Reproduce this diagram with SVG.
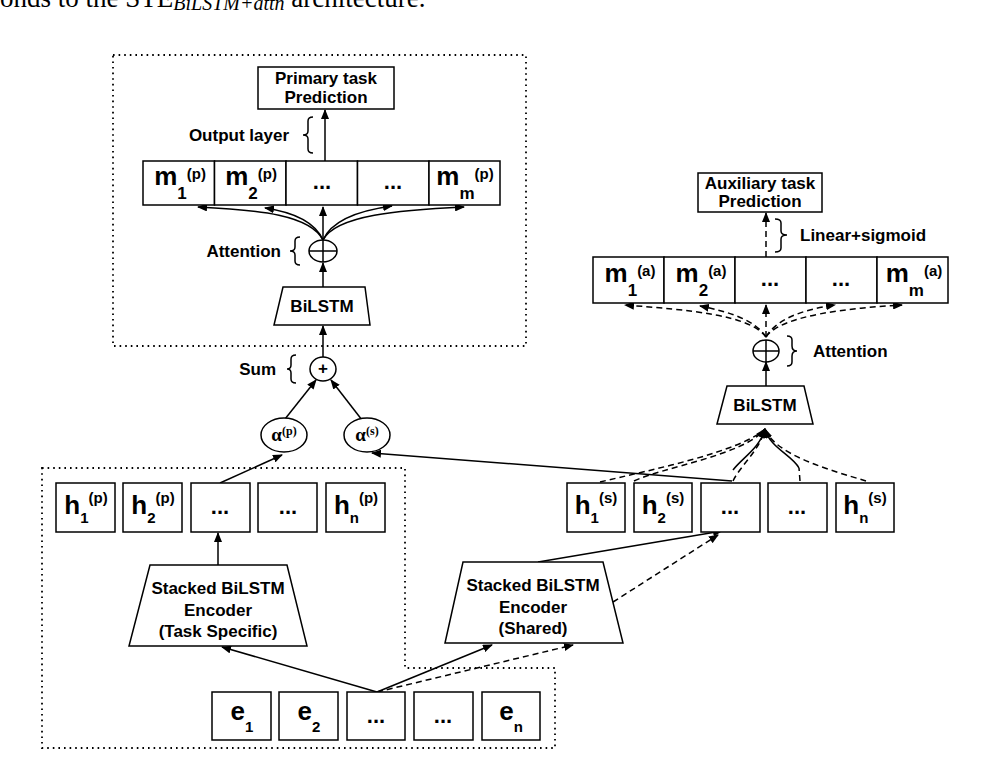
<svg xmlns="http://www.w3.org/2000/svg" width="986" height="765" viewBox="0 0 986 765">
<style>
.box{fill:#fff;stroke:#000;stroke-width:1.5}
.shape{fill:#fff;stroke:#000;stroke-width:1.5}
.ln{fill:none;stroke:#000;stroke-width:1.5}
.dash{fill:none;stroke:#000;stroke-width:1.5;stroke-dasharray:6 4}
.dot{fill:none;stroke:#000;stroke-width:1.8;stroke-dasharray:1.6 4}
.t{font-family:"Liberation Sans",Arial,sans-serif;font-weight:bold;font-size:17px;fill:#000}
.big{font-family:"Liberation Sans",Arial,sans-serif;font-weight:bold;font-size:26px;fill:#000}
.dots{font-family:"Liberation Sans",Arial,sans-serif;font-weight:bold;font-size:22px;fill:#000}
.sb{font-size:17px}
.sp{font-size:15px}
.al{font-family:"Liberation Serif","Times New Roman",serif;font-weight:bold;font-size:19px;fill:#000}
.cap{font-family:"Liberation Serif","Times New Roman",serif;font-size:27px;fill:#000}
</style>
<defs>
<marker id="ah" markerUnits="userSpaceOnUse" markerWidth="10" markerHeight="8" refX="9" refY="4" orient="auto"><path d="M0,0 L10,4 L0,8 z" fill="#000"/></marker>
</defs>

<text class="cap" x="0" y="7">onds to the STE<tspan font-style="italic" font-size="20" dy="3">BiLSTM+attn</tspan><tspan dy="-3"> architecture.</tspan></text>

<g id="regions">
<rect class="dot" x="113" y="55" width="413" height="291"/>
<path class="dot" d="M42,468 L405,468 L405,668 L555,668 L555,748 L42,748 Z"/>
</g>

<g id="connectors">
<path class="ln" d="M325,161 L325,110" marker-end="url(#ah)"/>
<path class="ln" d="M323,240 C310,215 260,210 198,207" marker-end="url(#ah)"/>
<path class="ln" d="M323,240 C315,222 292,212 265,208" marker-end="url(#ah)"/>
<path class="ln" d="M323,240 L323,207" marker-end="url(#ah)"/>
<path class="ln" d="M323,240 C331,222 355,211 392,206" marker-end="url(#ah)"/>
<path class="ln" d="M323,240 C336,215 400,210 464,207" marker-end="url(#ah)"/>
<path class="ln" d="M323,287 L323,263" marker-end="url(#ah)"/>
<path class="ln" d="M323,357 L323,326" marker-end="url(#ah)"/>
<path class="ln" d="M285,419 L316,380" marker-end="url(#ah)"/>
<path class="ln" d="M362,420 L331,380" marker-end="url(#ah)"/>
<path class="ln" d="M220,483 L282,455" marker-end="url(#ah)"/>
<path class="ln" d="M732,481 L372,453" marker-end="url(#ah)"/>
<path class="ln" d="M218,565 L218,533" marker-end="url(#ah)"/>
<path class="ln" d="M377,692 L222,647" marker-end="url(#ah)"/>
<path class="ln" d="M377,692 L492,645" marker-end="url(#ah)"/>
<path class="dash" d="M377,692 L573,645" marker-end="url(#ah)"/>
<path class="ln" d="M538,562 L722,531" marker-end="url(#ah)"/>
<path class="dash" d="M613,602 L718,535" marker-end="url(#ah)"/>
<path class="dash" d="M634,481 C660,468 745,455 765,429" marker-end="url(#ah)"/>
<path class="dash" d="M600,482 C650,470 740,452 765,429"/>
<path class="dash" d="M733,481 C740,466 760,450 765,429"/>
<path class="ln" d="M733,470 C742,458 760,448 765,429" marker-end="url(#ah)"/>
<path class="ln" d="M799,468 C792,455 770,448 765,429" marker-end="url(#ah)"/>
<path class="dash" d="M800,481 L799,468"/>
<path class="dash" d="M866,481 C830,470 775,455 765,429" marker-end="url(#ah)"/>
<path class="ln" d="M766,386 L766,362" marker-end="url(#ah)"/>
<path class="dash" d="M766,337 C750,315 690,310 625,305" marker-end="url(#ah)"/>
<path class="dash" d="M766,337 C755,320 730,312 700,306" marker-end="url(#ah)"/>
<path class="dash" d="M766,337 L766,305" marker-end="url(#ah)"/>
<path class="dash" d="M766,337 C776,320 800,310 835,305" marker-end="url(#ah)"/>
<path class="dash" d="M766,337 C781,315 850,308 902,305" marker-end="url(#ah)"/>
<path class="dash" d="M766,257 L766,213" marker-end="url(#ah)"/>
</g>

<g id="primary_pred">
<rect class="box" x="258" y="67" width="136" height="42"/>
<text class="t" x="326" y="84" text-anchor="middle">Primary task</text>
<text class="t" x="326" y="103" text-anchor="middle">Prediction</text>
</g>
<g id="output_layer_label">
<text class="t" x="289" y="141" text-anchor="end">Output layer</text>
<path class="ln" d="M313,117 Q308,117 308,121 L308,131 Q308,135 303,135 Q308,135 308,139 L308,149 Q308,153 313,153"/>
</g>

<g id="m_p">
<rect class="box" x="143" y="161" width="71.5" height="44"/>
<rect class="box" x="214.5" y="161" width="71.5" height="44"/>
<rect class="box" x="286" y="161" width="71.5" height="44"/>
<rect class="box" x="357.5" y="161" width="71.5" height="44"/>
<rect class="box" x="429" y="161" width="71" height="44"/>
<text class="big" x="180" y="185" text-anchor="middle">m<tspan class="sb" dy="14">1</tspan><tspan class="sp" dy="-20">(p)</tspan></text>
<text class="big" x="251" y="185" text-anchor="middle">m<tspan class="sb" dy="14">2</tspan><tspan class="sp" dy="-20">(p)</tspan></text>
<text class="dots" x="322" y="189" text-anchor="middle">...</text>
<text class="dots" x="393" y="189" text-anchor="middle">...</text>
<text class="big" x="465" y="185" text-anchor="middle">m<tspan class="sb" dy="14">m</tspan><tspan class="sp" dy="-20">(p)</tspan></text>
</g>

<g id="attn_p">
<ellipse class="shape" cx="323" cy="251" rx="14" ry="11"/>
<path class="ln" d="M309,251 L337,251 M323,240 L323,262"/>
<text class="t" x="281" y="257" text-anchor="end">Attention</text>
<path class="ln" d="M300,237 Q295,237 295,241 L295,247 Q295,251 290,251 Q295,251 295,255 L295,261 Q295,265 300,265"/>
</g>

<g id="bilstm_p">
<path class="shape" d="M283,287 L365,287 L370,325 L274,325 Z"/>
<text class="t" x="322" y="312" text-anchor="middle">BiLSTM</text>
</g>

<g id="sum">
<ellipse class="shape" cx="323" cy="369" rx="13" ry="12"/>
<text class="t" x="323" y="374" text-anchor="middle" font-size="15">+</text>
<text class="t" x="276" y="375" text-anchor="end">Sum</text>
<path class="ln" d="M296,355 Q291,355 291,359 L291,365 Q291,369 287,369 Q291,369 291,373 L291,379 Q291,383 296,383"/>
</g>

<g id="alpha_p">
<ellipse class="shape" cx="284" cy="435" rx="23" ry="17"/>
<text class="al" x="284" y="441" text-anchor="middle">α<tspan font-size="12" dy="-6">(p)</tspan></text>
</g>
<g id="alpha_s">
<ellipse class="shape" cx="367" cy="435" rx="23" ry="17"/>
<text class="al" x="367" y="441" text-anchor="middle">α<tspan font-size="12" dy="-6">(s)</tspan></text>
</g>

<g id="h_p">
<rect class="box" x="56" y="483" width="59" height="49"/>
<rect class="box" x="123" y="483" width="59" height="49"/>
<rect class="box" x="191" y="483" width="59" height="49"/>
<rect class="box" x="258" y="483" width="59" height="49"/>
<rect class="box" x="326" y="483" width="59" height="49"/>
<text class="big" x="86" y="514" text-anchor="middle">h<tspan class="sp" dy="9">1</tspan><tspan class="sp" font-size="16" dy="-20">(p)</tspan></text>
<text class="big" x="153" y="514" text-anchor="middle">h<tspan class="sp" dy="9">2</tspan><tspan class="sp" font-size="16" dy="-20">(p)</tspan></text>
<text class="dots" x="220" y="514" text-anchor="middle">...</text>
<text class="dots" x="288" y="514" text-anchor="middle">...</text>
<text class="big" x="356" y="514" text-anchor="middle">h<tspan class="sp" dy="9">n</tspan><tspan class="sp" font-size="16" dy="-20">(p)</tspan></text>
</g>

<g id="encoder_task">
<path class="shape" d="M150,565 L287,565 L307,646 L129,646 Z"/>
<text class="t" x="218" y="594" text-anchor="middle">Stacked BiLSTM</text>
<text class="t" x="218" y="616" text-anchor="middle">Encoder</text>
<text class="t" x="218" y="637" text-anchor="middle">(Task Specific)</text>
</g>

<g id="encoder_shared">
<path class="shape" d="M463,562 L603,562 L623,643 L445,643 Z"/>
<text class="t" x="533" y="591" text-anchor="middle">Stacked BiLSTM</text>
<text class="t" x="533" y="613" text-anchor="middle">Encoder</text>
<text class="t" x="533" y="634" text-anchor="middle">(Shared)</text>
</g>

<g id="e_row">
<rect class="box" x="212" y="692" width="59" height="48"/>
<rect class="box" x="279" y="692" width="59" height="48"/>
<rect class="box" x="347" y="692" width="58" height="48"/>
<rect class="box" x="414" y="692" width="59" height="48"/>
<rect class="box" x="482" y="692" width="58" height="48"/>
<text class="big" x="242" y="720" text-anchor="middle">e<tspan class="sp" font-size="16" dy="12">1</tspan></text>
<text class="big" x="309" y="720" text-anchor="middle">e<tspan class="sp" font-size="16" dy="12">2</tspan></text>
<text class="dots" x="376" y="723" text-anchor="middle">...</text>
<text class="dots" x="443" y="723" text-anchor="middle">...</text>
<text class="big" x="511" y="720" text-anchor="middle">e<tspan class="sp" font-size="16" dy="12">n</tspan></text>
</g>

<g id="h_s">
<rect class="box" x="567" y="483" width="58" height="49"/>
<rect class="box" x="634" y="483" width="58" height="49"/>
<rect class="box" x="701" y="483" width="59" height="49"/>
<rect class="box" x="768" y="483" width="59" height="49"/>
<rect class="box" x="836" y="483" width="58" height="49"/>
<text class="big" x="596" y="514" text-anchor="middle">h<tspan class="sp" dy="9">1</tspan><tspan class="sp" font-size="16" dy="-20">(s)</tspan></text>
<text class="big" x="663" y="514" text-anchor="middle">h<tspan class="sp" dy="9">2</tspan><tspan class="sp" font-size="16" dy="-20">(s)</tspan></text>
<text class="dots" x="730" y="514" text-anchor="middle">...</text>
<text class="dots" x="797" y="514" text-anchor="middle">...</text>
<text class="big" x="865" y="514" text-anchor="middle">h<tspan class="sp" dy="9">n</tspan><tspan class="sp" font-size="16" dy="-20">(s)</tspan></text>
</g>

<g id="bilstm_a">
<path class="shape" d="M727,386 L804,386 L813,424 L717,424 Z"/>
<text class="t" x="765" y="411" text-anchor="middle">BiLSTM</text>
</g>

<g id="attn_a">
<ellipse class="shape" cx="766" cy="351" rx="13" ry="11"/>
<path class="ln" d="M753,351 L779,351 M766,340 L766,362"/>
<path class="ln" d="M787,336 Q792,336 792,340 L792,346 Q792,351 797,351 Q792,351 792,356 L792,362 Q792,366 787,366"/>
<text class="t" x="813" y="357">Attention</text>
</g>

<g id="m_a">
<rect class="box" x="593" y="257" width="71" height="46"/>
<rect class="box" x="664" y="257" width="71" height="46"/>
<rect class="box" x="735" y="257" width="71" height="46"/>
<rect class="box" x="806" y="257" width="71" height="46"/>
<rect class="box" x="877" y="257" width="71" height="46"/>
<text class="big" x="630" y="282" text-anchor="middle">m<tspan class="sb" dy="14">1</tspan><tspan class="sp" dy="-20">(a)</tspan></text>
<text class="big" x="701" y="282" text-anchor="middle">m<tspan class="sb" dy="14">2</tspan><tspan class="sp" dy="-20">(a)</tspan></text>
<text class="dots" x="770" y="286" text-anchor="middle">...</text>
<text class="dots" x="841" y="286" text-anchor="middle">...</text>
<text class="big" x="914" y="282" text-anchor="middle">m<tspan class="sb" dy="14">m</tspan><tspan class="sp" dy="-20">(a)</tspan></text>
</g>

<g id="linear_label">
<path class="ln" d="M775,219 Q781,219 781,223 L781,231 Q781,235 787,235 Q781,235 781,239 L781,248 Q781,252 775,252"/>
<text class="t" x="800" y="241">Linear+sigmoid</text>
</g>

<g id="aux_pred">
<rect class="box" x="698" y="173" width="124" height="39"/>
<text class="t" x="760" y="189" text-anchor="middle">Auxiliary task</text>
<text class="t" x="760" y="207" text-anchor="middle">Prediction</text>
</g>
</svg>
